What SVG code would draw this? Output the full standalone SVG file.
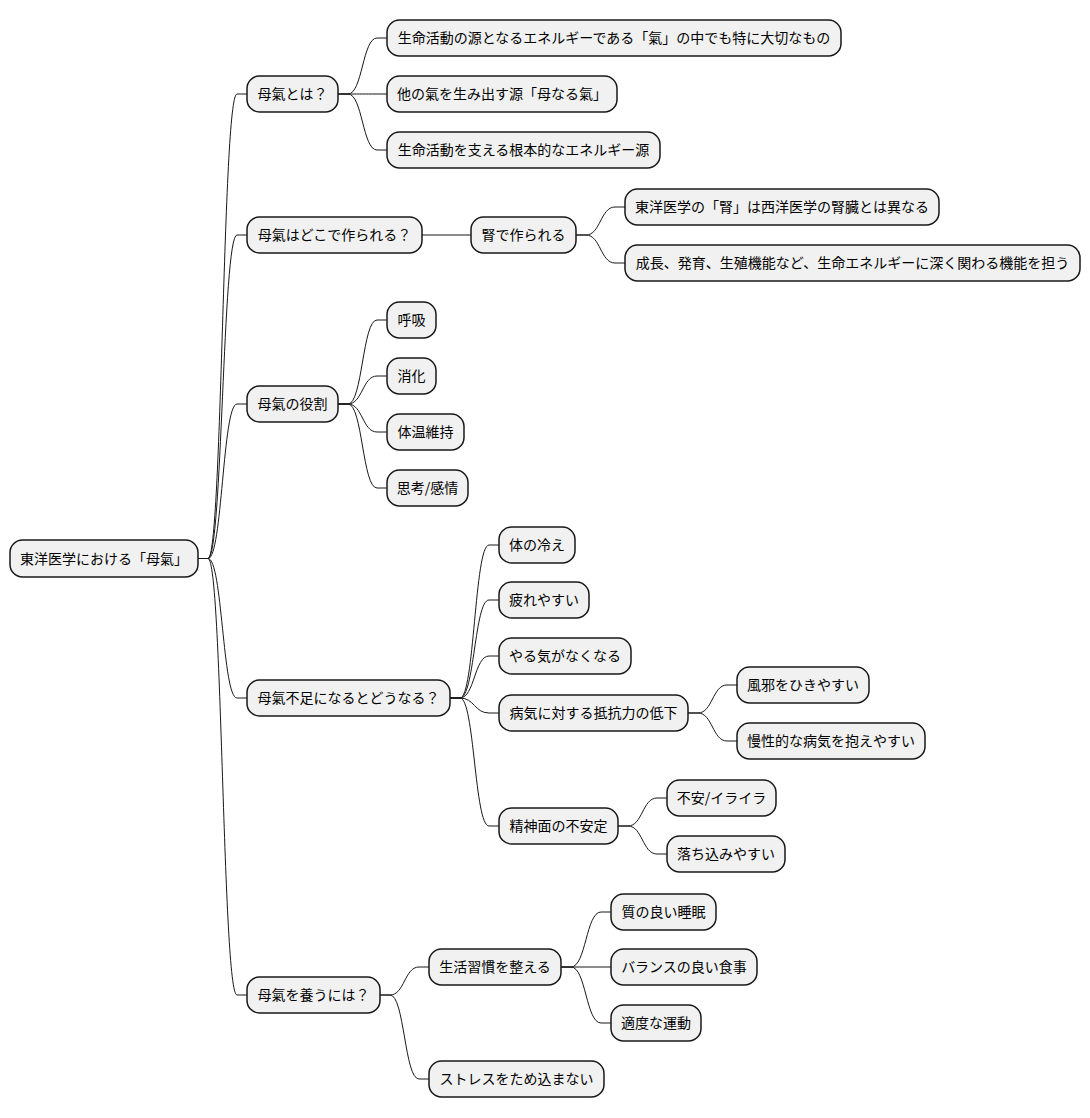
<svg xmlns="http://www.w3.org/2000/svg" width="1090" height="1118" viewBox="0 0 1090 1118">
<style>
.n rect{fill:#F1F1F1;stroke:#181818;stroke-width:1.5}
.n text{font-family:"Noto Sans CJK JP","Noto Sans",sans-serif;font-size:14px;fill:#000;text-anchor:middle}
.c path{fill:none;stroke:#181818;stroke-width:1}
</style>
<rect width="1090" height="1118" fill="#FFFFFF"/>
<g class="c">
<path d="M198,558.5 L208,558.5 C222.5,558.5 222.5,94 237,94 L247,94"/>
<path d="M198,558.5 L208,558.5 C222.5,558.5 222.5,235 237,235 L247,235"/>
<path d="M198,558.5 L208,558.5 C222.5,558.5 222.5,404 237,404 L247,404"/>
<path d="M198,558.5 L208,558.5 C222.5,558.5 222.5,698 237,698 L247,698"/>
<path d="M198,558.5 L208,558.5 C222.5,558.5 222.5,995 237,995 L247,995"/>
<path d="M338,94 L348,94 C362.5,94 362.5,38 377,38 L387,38"/>
<path d="M338,94 L348,94 C362.5,94 362.5,94 377,94 L387,94"/>
<path d="M338,94 L348,94 C362.5,94 362.5,150 377,150 L387,150"/>
<path d="M422,235 L471,235"/>
<path d="M576,235 L586,235 C600.5,235 600.5,207 615,207 L625,207"/>
<path d="M576,235 L586,235 C600.5,235 600.5,263 615,263 L625,263"/>
<path d="M338,404 L348,404 C362.5,404 362.5,320 377,320 L387,320"/>
<path d="M338,404 L348,404 C362.5,404 362.5,376 377,376 L387,376"/>
<path d="M338,404 L348,404 C362.5,404 362.5,432 377,432 L387,432"/>
<path d="M338,404 L348,404 C362.5,404 362.5,488 377,488 L387,488"/>
<path d="M450,698 L460,698 C474.5,698 474.5,545 489,545 L499,545"/>
<path d="M450,698 L460,698 C474.5,698 474.5,600 489,600 L499,600"/>
<path d="M450,698 L460,698 C474.5,698 474.5,656 489,656 L499,656"/>
<path d="M450,698 L460,698 C474.5,698 474.5,713 489,713 L499,713"/>
<path d="M450,698 L460,698 C474.5,698 474.5,826 489,826 L499,826"/>
<path d="M688,713 L698,713 C712.5,713 712.5,685 727,685 L737,685"/>
<path d="M688,713 L698,713 C712.5,713 712.5,741 727,741 L737,741"/>
<path d="M618,826 L628,826 C642.5,826 642.5,798 657,798 L667,798"/>
<path d="M618,826 L628,826 C642.5,826 642.5,854 657,854 L667,854"/>
<path d="M380,995 L390,995 C404.5,995 404.5,967 419,967 L429,967"/>
<path d="M380,995 L390,995 C404.5,995 404.5,1079 419,1079 L429,1079"/>
<path d="M561,967 L571,967 C586,967 586,912 601,912 L611,912"/>
<path d="M561,967 L611,967"/>
<path d="M561,967 L571,967 C586,967 586,1023 601,1023 L611,1023"/>
</g>
<g id="root" class="n"><rect x="10" y="540" width="188" height="37" rx="12.5"/><text x="104" y="564">東洋医学における「母氣」</text></g>
<g id="n1" class="n"><rect x="247" y="76" width="91" height="36" rx="12.5"/><text x="292.5" y="99">母氣とは？</text></g>
<g id="n1a" class="n"><rect x="387" y="20" width="454" height="36" rx="12.5"/><text x="614" y="43">生命活動の源となるエネルギーである「氣」の中でも特に大切なもの</text></g>
<g id="n1b" class="n"><rect x="387" y="76" width="230" height="36" rx="12.5"/><text x="502" y="99">他の氣を生み出す源「母なる氣」</text></g>
<g id="n1c" class="n"><rect x="387" y="132" width="273" height="36" rx="12.5"/><text x="523.5" y="155">生命活動を支える根本的なエネルギー源</text></g>
<g id="n2" class="n"><rect x="247" y="217" width="175" height="36" rx="12.5"/><text x="334.5" y="240">母氣はどこで作られる？</text></g>
<g id="n2a" class="n"><rect x="471" y="217" width="105" height="36" rx="12.5"/><text x="523.5" y="240">腎で作られる</text></g>
<g id="n2a1" class="n"><rect x="625" y="189" width="314" height="36" rx="12.5"/><text x="782" y="212">東洋医学の「腎」は西洋医学の腎臓とは異なる</text></g>
<g id="n2a2" class="n"><rect x="625" y="245" width="455" height="36" rx="12.5"/><text x="852.5" y="268">成長、発育、生殖機能など、生命エネルギーに深く関わる機能を担う</text></g>
<g id="n3" class="n"><rect x="247" y="386" width="91" height="36" rx="12.5"/><text x="292.5" y="409">母氣の役割</text></g>
<g id="n3a" class="n"><rect x="387" y="302" width="49" height="36" rx="12.5"/><text x="411.5" y="325">呼吸</text></g>
<g id="n3b" class="n"><rect x="387" y="358" width="49" height="36" rx="12.5"/><text x="411.5" y="381">消化</text></g>
<g id="n3c" class="n"><rect x="387" y="414" width="77" height="36" rx="12.5"/><text x="425.5" y="437">体温維持</text></g>
<g id="n3d" class="n"><rect x="387" y="470" width="81" height="36" rx="12.5"/><text x="427.5" y="493">思考/感情</text></g>
<g id="n4" class="n"><rect x="247" y="680" width="203" height="36" rx="12.5"/><text x="348.5" y="703">母氣不足になるとどうなる？</text></g>
<g id="n4a" class="n"><rect x="499" y="527" width="76" height="36" rx="12.5"/><text x="537" y="550">体の冷え</text></g>
<g id="n4b" class="n"><rect x="499" y="582" width="90" height="36" rx="12.5"/><text x="544" y="605">疲れやすい</text></g>
<g id="n4c" class="n"><rect x="499" y="638" width="132" height="36" rx="12.5"/><text x="565" y="661">やる気がなくなる</text></g>
<g id="n4d" class="n"><rect x="499" y="695" width="189" height="36" rx="12.5"/><text x="593.5" y="718">病気に対する抵抗力の低下</text></g>
<g id="n4d1" class="n"><rect x="737" y="667" width="132" height="36" rx="12.5"/><text x="803" y="690">風邪をひきやすい</text></g>
<g id="n4d2" class="n"><rect x="737" y="723" width="188" height="36" rx="12.5"/><text x="831" y="746">慢性的な病気を抱えやすい</text></g>
<g id="n4e" class="n"><rect x="499" y="808" width="119" height="36" rx="12.5"/><text x="558.5" y="831">精神面の不安定</text></g>
<g id="n4e1" class="n"><rect x="667" y="780" width="109" height="36" rx="12.5"/><text x="721.5" y="803">不安/イライラ</text></g>
<g id="n4e2" class="n"><rect x="667" y="836" width="118" height="36" rx="12.5"/><text x="726" y="859">落ち込みやすい</text></g>
<g id="n5" class="n"><rect x="247" y="977" width="133" height="36" rx="12.5"/><text x="313.5" y="1000">母氣を養うには？</text></g>
<g id="n5a" class="n"><rect x="429" y="949" width="132" height="36" rx="12.5"/><text x="495" y="972">生活習慣を整える</text></g>
<g id="n5a1" class="n"><rect x="611" y="894" width="105" height="36" rx="12.5"/><text x="663.5" y="917">質の良い睡眠</text></g>
<g id="n5a2" class="n"><rect x="611" y="949" width="146" height="36" rx="12.5"/><text x="684" y="972">バランスの良い食事</text></g>
<g id="n5a3" class="n"><rect x="611" y="1005" width="90" height="36" rx="12.5"/><text x="656" y="1028">適度な運動</text></g>
<g id="n5b" class="n"><rect x="429" y="1061" width="175" height="36" rx="12.5"/><text x="516.5" y="1084">ストレスをため込まない</text></g>
</svg>
